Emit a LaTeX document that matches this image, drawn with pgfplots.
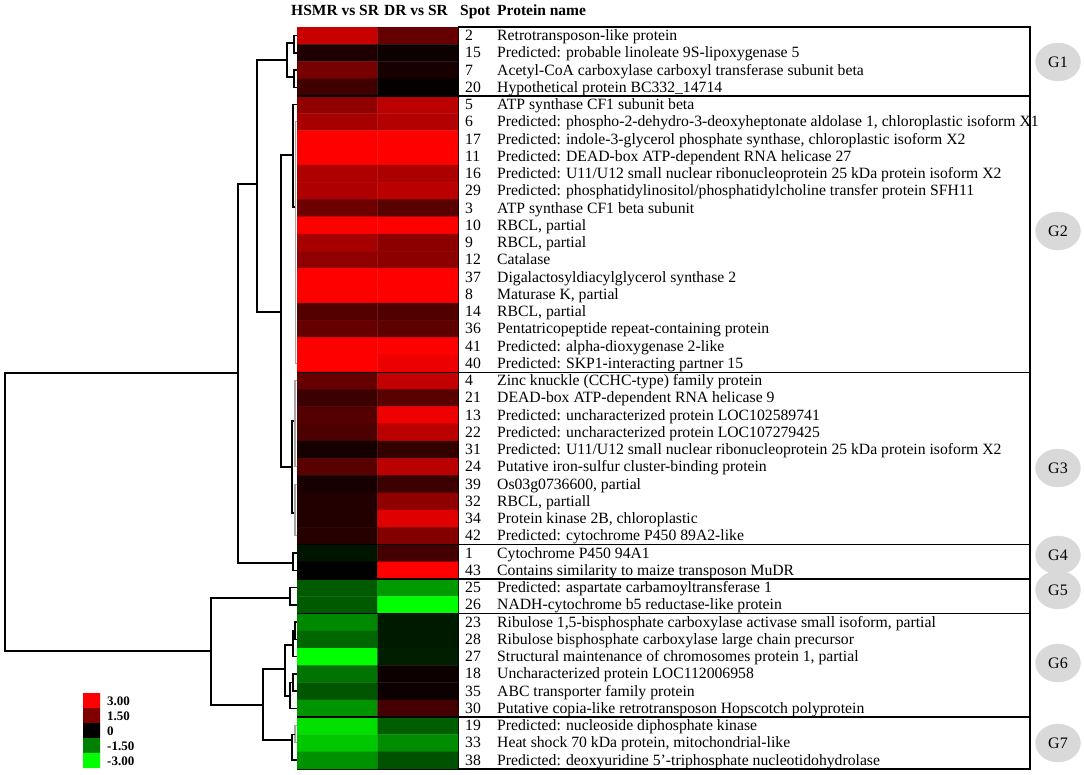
\documentclass[border=0pt]{standalone}
\usepackage{fontspec}
\setmainfont{Liberation Serif}
\usepackage{pgfplots}
\pgfplotsset{compat=1.18}
\usepackage{pgfplotstable}

\definecolor{lgA}{RGB}{255,0,0}
\definecolor{lgB}{RGB}{128,0,0}
\definecolor{lgC}{RGB}{0,0,0}
\definecolor{lgD}{RGB}{0,128,0}
\definecolor{lgE}{RGB}{0,255,0}
\definecolor{gcirc}{RGB}{217,217,217}

% heatmap values: x = 0 (HSMR vs SR), 1 (DR vs SR); y = row (top = 0)
\pgfplotstableread{
x y c
0 0 2.35
1 0 1.2
0 1 0.35
1 1 0.15
0 2 1.4
1 2 0.3
0 3 0.75
1 3 0.05
0 4 1.7
1 4 2.2
0 5 1.95
1 5 2.1
0 6 3
1 6 3
0 7 3
1 7 3
0 8 2.05
1 8 2.0
0 9 2.05
1 9 2.2
0 10 1.3
1 10 1.05
0 11 3
1 11 3
0 12 1.95
1 12 1.65
0 13 1.7
1 13 1.65
0 14 3
1 14 3
0 15 3
1 15 3
0 16 1.0
1 16 0.95
0 17 1.2
1 17 1.1
0 18 3
1 18 3
0 19 3
1 19 2.8
0 20 1.2
1 20 2.3
0 21 0.7
1 21 1.05
0 22 1.0
1 22 2.8
0 23 0.9
1 23 2.2
0 24 0.25
1 24 0.6
0 25 1.05
1 25 2.2
0 26 0.3
1 26 0.7
0 27 0.4
1 27 1.7
0 28 0.4
1 28 2.65
0 29 0.45
1 29 1.55
0 30 -0.25
1 30 0.8
0 31 0.0
1 31 3
0 32 -1.05
1 32 -1.8
0 33 -1.05
1 33 -3
0 34 -1.6
1 34 -0.3
0 35 -1.2
1 35 -0.3
0 36 -3
1 36 -0.35
0 37 -1.35
1 37 0.15
0 38 -1.0
1 38 0.15
0 39 -1.75
1 39 0.8
0 40 -2.65
1 40 -1.1
0 41 -2.35
1 41 -1.65
0 42 -1.7
1 42 -0.95
}\heat

\begin{document}
\begin{tikzpicture}
\path[use as bounding box] (0,0) rectangle (1084pt,-775pt);

% ---------- heatmap ----------
\begin{axis}[
  at={(297pt,-27pt)}, anchor=north west,
  scale only axis, width=161pt, height=742pt,
  xmin=-0.5, xmax=1.5, ymin=-0.5, ymax=42.5, y dir=reverse,
  ticks=none, axis line style={black, line width=0.6pt},
  colormap={rg}{rgb255=(0,255,0) rgb255=(0,128,0) rgb255=(0,0,0) rgb255=(128,0,0) rgb255=(255,0,0)},
  point meta min=-3, point meta max=3,
]
\addplot[matrix plot*, mesh/cols=2, point meta=explicit] table[meta=c] {\heat};
\end{axis}

% ---------- pixel axis for dendrogram, boxes, legend ----------
\begin{axis}[
  at={(0,0)}, anchor=north west,
  scale only axis, width=1084pt, height=775pt,
  xmin=0, xmax=1084, ymin=0, ymax=775, y dir=reverse,
  hide axis, clip=false,
  dend/.style={black, line width=1.4pt},
  dendg/.style={gray!70, line width=1.1pt},
]
% dendrogram
\addplot[dend] coordinates {(238,373) (5,373) (5,651) (211,651)};
\addplot[dend] coordinates {(257,184) (238,184) (238,563) (293,563)};
\addplot[dend] coordinates {(287,60) (257,60) (257,312) (281,312)};
\addplot[dend] coordinates {(293,155) (281,155) (281,467) (292,467)};
\addplot[dend] coordinates {(294,43) (287,43) (287,77) (294,77)};
\addplot[dend] coordinates {(297,35.6) (294,35.6) (294,52.9) (297,52.9)};
\addplot[dend] coordinates {(297,70.1) (294,70.1) (294,87.4) (297,87.4)};
\addplot[dend] coordinates {(297,104.6) (293,104.6) (293,207) (295.5,207)};
\addplot[dendg] coordinates {(297,121.9) (295.5,121.9) (295.5,363.4) (297,363.4)};
\addplot[dend] coordinates {(295,421) (292,421) (292,513) (295,513)};
\addplot[dendg] coordinates {(297,380.6) (295,380.6) (295,466.9) (297,466.9)};
\addplot[dendg] coordinates {(297,484.1) (295,484.1) (295,535.9) (297,535.9)};
\addplot[dend] coordinates {(297,553.1) (293,553.1) (293,570.4) (297,570.4)};
\addplot[dend] coordinates {(290,598) (211,598) (211,705) (263,705)};
\addplot[dend] coordinates {(297,587.6) (290,587.6) (290,604.9) (297,604.9)};
\addplot[dend] coordinates {(285,669) (263,669) (263,740) (292,740)};
\addplot[dend] coordinates {(293,645) (285,645) (285,696) (290,696)};
\addplot[dend] coordinates {(297,622.1) (295,622.1) (295,639.4) (297,639.4)};
\addplot[dend] coordinates {(295,630.8) (293,630.8) (293,656.6) (297,656.6)};
\addplot[dend] coordinates {(297,673.9) (293,673.9) (293,691.1) (297,691.1)};
\addplot[dend] coordinates {(293,682.5) (290,682.5) (290,708.4) (297,708.4)};
\addplot[dendg] coordinates {(297,725.6) (295,725.6) (295,742.9) (297,742.9)};
\addplot[dend] coordinates {(295,734.3) (292,734.3) (292,760.1) (297,760.1)};

% group boxes
\addplot[black, line width=1.2pt] coordinates {(458,27) (1030,27) (1030,769) (458,769)};
\addplot[black, line width=1.2pt] coordinates {(297,96) (1030,96)};
\addplot[black, line width=0.8pt] coordinates {(297,372) (1030,372)};
\addplot[black, line width=1.2pt] coordinates {(297,544.5) (1030,544.5)};
\addplot[black, line width=1.2pt] coordinates {(297,579) (1030,579)};
\addplot[black, line width=1.2pt] coordinates {(297,613.5) (1030,613.5)};
\addplot[black, line width=1.2pt] coordinates {(297,717) (1030,717)};

% group circles
\addplot[color=gcirc, only marks, mark=*, mark size=19, mark options={fill=gcirc, draw=gcirc, xscale=1.18}]
  coordinates {(1058,62) (1058,231) (1058,468) (1058,555) (1058,590) (1058,663) (1058,743)};

% colour key
\addplot[fill=lgA, draw=none] coordinates {(83,693) (100,693) (100,708) (83,708) (83,693)};
\addplot[fill=lgB, draw=none] coordinates {(83,708) (100,708) (100,723) (83,723) (83,708)};
\addplot[fill=lgC, draw=none] coordinates {(83,723) (100,723) (100,738) (83,738) (83,723)};
\addplot[fill=lgD, draw=none] coordinates {(83,738) (100,738) (100,753) (83,753) (83,738)};
\addplot[fill=lgE, draw=none] coordinates {(83,753) (100,753) (100,768) (83,768) (83,753)};
\end{axis}

% ---------- texts ----------
\begin{scope}[every node/.style={inner sep=0pt, font=\fontsize{15.5}{16}\selectfont\bfseries}]
\node[anchor=base west] at (291pt,-16pt) {HSMR vs SR};
\node[anchor=base west] at (384pt,-16pt) {DR vs SR};
\node[anchor=base west] at (460pt,-16pt) {Spot};
\node[anchor=base west] at (497pt,-16pt) {Protein name};
\end{scope}

\begin{scope}[every node/.style={inner sep=0pt, anchor=base west, font=\fontsize{15.7}{16}\selectfont}]
\foreach \i/\s/\n in {
0/2/{Retrotransposon-like protein},
1/15/{Predicted: probable linoleate 9S-lipoxygenase 5},
2/7/{Acetyl-CoA carboxylase carboxyl transferase subunit beta},
3/20/{Hypothetical protein BC332\_14714},
4/5/{ATP synthase CF1 subunit beta},
5/6/{Predicted: phospho-2-dehydro-3-deoxyheptonate aldolase 1, chloroplastic isoform X1},
6/17/{Predicted: indole-3-glycerol phosphate synthase, chloroplastic isoform X2},
7/11/{Predicted: DEAD-box ATP-dependent RNA helicase 27},
8/16/{Predicted: U11/U12 small nuclear ribonucleoprotein 25 kDa protein isoform X2},
9/29/{Predicted: phosphatidylinositol/phosphatidylcholine transfer protein SFH11},
10/3/{ATP synthase CF1 beta subunit},
11/10/{RBCL, partial},
12/9/{RBCL, partial},
13/12/{Catalase},
14/37/{Digalactosyldiacylglycerol synthase 2},
15/8/{Maturase K, partial},
16/14/{RBCL, partial},
17/36/{Pentatricopeptide repeat-containing protein},
18/41/{Predicted: alpha-dioxygenase 2-like},
19/40/{Predicted: SKP1-interacting partner 15},
20/4/{Zinc knuckle (CCHC-type) family protein},
21/21/{DEAD-box ATP-dependent RNA helicase 9},
22/13/{Predicted: uncharacterized protein LOC102589741},
23/22/{Predicted: uncharacterized protein LOC107279425},
24/31/{Predicted: U11/U12 small nuclear ribonucleoprotein 25 kDa protein isoform X2},
25/24/{Putative iron-sulfur cluster-binding protein},
26/39/{Os03g0736600, partial},
27/32/{RBCL, partiall},
28/34/{Protein kinase 2B, chloroplastic},
29/42/{Predicted: cytochrome P450 89A2-like},
30/1/{Cytochrome P450 94A1},
31/43/{Contains similarity to maize transposon MuDR},
32/25/{Predicted: aspartate carbamoyltransferase 1},
33/26/{NADH-cytochrome b5 reductase-like protein},
34/23/{Ribulose 1,5-bisphosphate carboxylase activase small isoform, partial},
35/28/{Ribulose bisphosphate carboxylase large chain precursor},
36/27/{Structural maintenance of chromosomes protein 1, partial},
37/18/{Uncharacterized protein LOC112006958},
38/35/{ABC transporter family protein},
39/30/{Putative copia-like retrotransposon Hopscotch polyprotein},
40/19/{Predicted: nucleoside diphosphate kinase},
41/33/{Heat shock 70 kDa protein, mitochondrial-like},
42/38/{Predicted: deoxyuridine 5'-triphosphate nucleotidohydrolase}}
{
  \pgfmathsetmacro{\yy}{-(27+17.25*(\i+0.5)+5)}
  \node at (465pt,\yy pt) {\s};
  \node at (497pt,\yy pt) {\n};
}
\end{scope}

\begin{scope}[every node/.style={inner sep=0pt, font=\fontsize{16}{16}\selectfont}]
\node at (1058pt,-62pt) {G1};
\node at (1058pt,-231pt) {G2};
\node at (1058pt,-468pt) {G3};
\node at (1058pt,-555pt) {G4};
\node at (1058pt,-590pt) {G5};
\node at (1058pt,-663pt) {G6};
\node at (1058pt,-743pt) {G7};
\end{scope}

\begin{scope}[every node/.style={inner sep=0pt, anchor=west, font=\fontsize{13}{13}\selectfont\bfseries}]
\node at (107pt,-701pt) {3.00};
\node at (107pt,-716pt) {1.50};
\node at (107pt,-731pt) {0};
\node at (107pt,-746pt) {-1.50};
\node at (107pt,-761pt) {-3.00};
\end{scope}
\end{tikzpicture}
\end{document}
